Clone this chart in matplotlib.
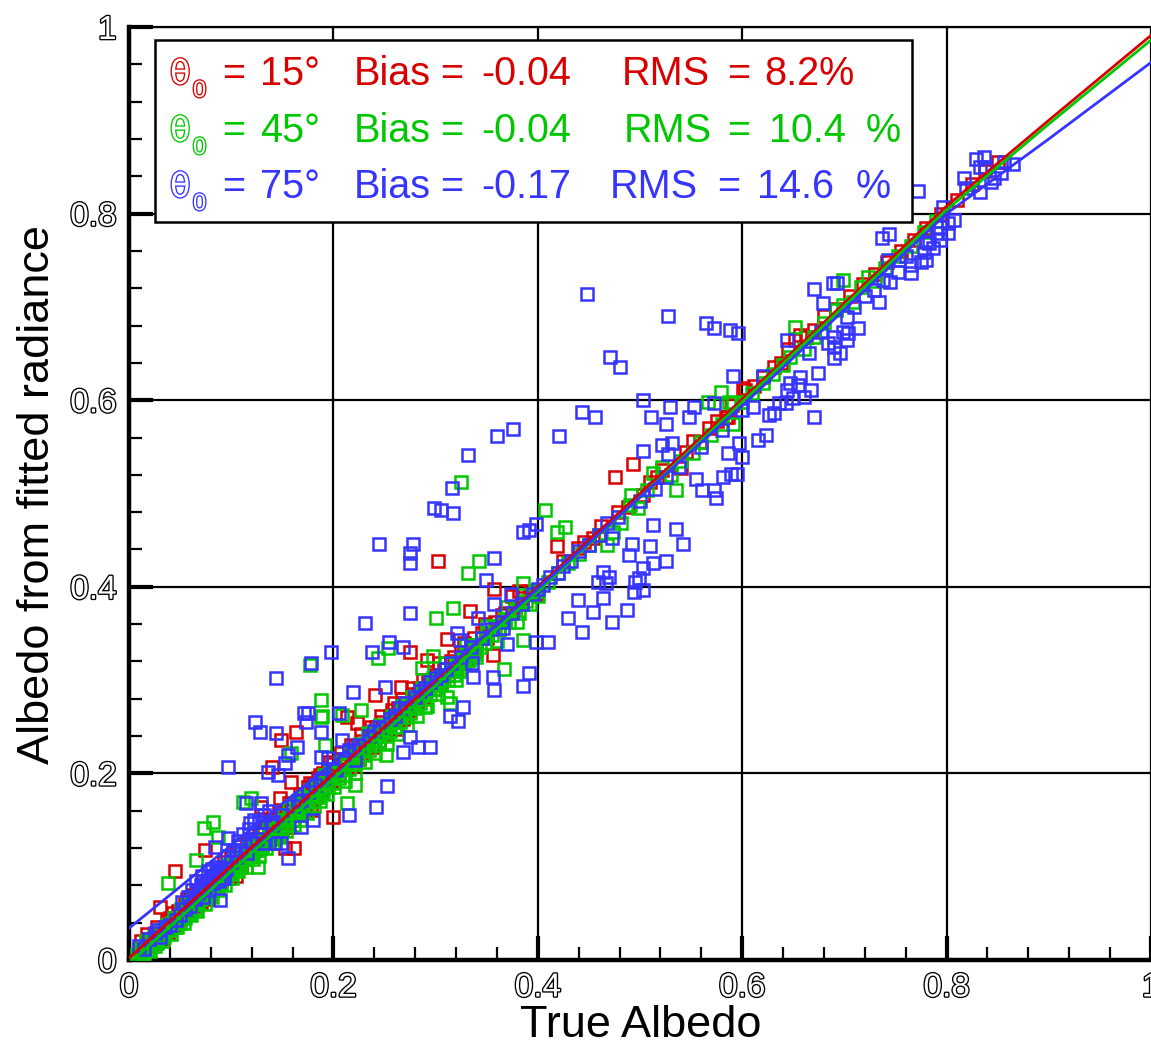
import matplotlib
matplotlib.use("Agg")
import matplotlib.pyplot as plt
import matplotlib.patheffects as pe
from matplotlib.patches import Rectangle
from matplotlib.ticker import MultipleLocator

# ---------------- data ----------------
tick_values = [0, 0.2, 0.4, 0.6, 0.8, 1.0]
tick_labels = ["0", "0.2", "0.4", "0.6", "0.8", "1"]

x_label = "True Albedo"
y_label = "Albedo from fitted radiance"

series_names = ["15", "45", "75"]
series_bias = ["-0.04", "-0.04", "-0.17"]
series_rms = ["8.2%", "10.4", "14.6"]
series_rms_pct = ["", "%", "%"]
series_colors = ["#d80000", "#00c800", "#3535ff"]

red_pts = [
    (0.010, 0.012), (0.015, 0.010), (0.020, 0.022), (0.025, 0.018), (0.030, 0.028), (0.035, 0.030),
    (0.038, 0.029), (0.040, 0.045), (0.045, 0.038), (0.048, 0.052), (0.050, 0.044), (0.055, 0.060),
    (0.058, 0.050), (0.060, 0.068), (0.065, 0.058), (0.068, 0.075), (0.070, 0.062), (0.075, 0.080),
    (0.078, 0.070), (0.080, 0.090), (0.085, 0.078), (0.088, 0.095), (0.090, 0.085), (0.095, 0.100),
    (0.098, 0.088), (0.100, 0.110), (0.030, 0.057), (0.045, 0.095), (0.074, 0.118), (0.105, 0.090),
    (0.110, 0.100), (0.105, 0.115), (0.110, 0.105), (0.115, 0.125), (0.120, 0.112), (0.125, 0.130),
    (0.128, 0.120), (0.129, 0.164), (0.132, 0.140), (0.135, 0.128), (0.138, 0.150), (0.140, 0.135),
    (0.140, 0.207), (0.145, 0.152), (0.148, 0.174), (0.149, 0.236), (0.150, 0.140), (0.153, 0.120),
    (0.155, 0.160), (0.156, 0.143), (0.159, 0.191), (0.160, 0.150), (0.161, 0.120), (0.163, 0.244),
    (0.165, 0.170), (0.168, 0.158), (0.170, 0.178), (0.172, 0.165), (0.175, 0.185), (0.178, 0.161),
    (0.180, 0.188), (0.183, 0.176), (0.185, 0.195), (0.188, 0.180), (0.190, 0.200), (0.193, 0.185),
    (0.195, 0.205), (0.198, 0.192), (0.200, 0.153), (0.200, 0.210), (0.205, 0.198), (0.208, 0.215),
    (0.212, 0.205), (0.213, 0.260), (0.215, 0.222), (0.218, 0.208), (0.220, 0.228), (0.223, 0.254),
    (0.225, 0.215), (0.228, 0.235), (0.230, 0.222), (0.235, 0.242), (0.238, 0.228), (0.241, 0.284),
    (0.242, 0.250), (0.245, 0.235), (0.248, 0.255), (0.250, 0.242), (0.255, 0.262), (0.259, 0.275),
    (0.260, 0.248), (0.263, 0.270), (0.266, 0.293), (0.268, 0.258), (0.270, 0.275), (0.275, 0.330),
    (0.275, 0.268), (0.278, 0.285), (0.282, 0.275), (0.285, 0.292), (0.290, 0.282), (0.292, 0.322),
    (0.293, 0.300), (0.298, 0.290), (0.302, 0.428), (0.300, 0.305), (0.305, 0.298), (0.308, 0.312),
    (0.311, 0.344), (0.312, 0.305), (0.315, 0.320), (0.320, 0.312), (0.325, 0.330), (0.330, 0.322),
    (0.334, 0.374), (0.335, 0.338), (0.340, 0.332), (0.345, 0.350), (0.350, 0.345), (0.356, 0.327),
    (0.357, 0.398), (0.358, 0.362), (0.362, 0.355), (0.368, 0.372), (0.375, 0.390), (0.378, 0.378),
    (0.385, 0.388), (0.392, 0.396), (0.398, 0.392), (0.419, 0.444), (0.425, 0.428), (0.439, 0.442),
    (0.445, 0.448), (0.454, 0.452), (0.462, 0.465), (0.476, 0.518), (0.478, 0.480), (0.488, 0.486),
    (0.493, 0.532), (0.503, 0.498), (0.510, 0.512), (0.517, 0.518), (0.522, 0.525), (0.540, 0.527),
    (0.545, 0.545), (0.552, 0.556), (0.559, 0.555), (0.568, 0.570), (0.575, 0.578), (0.584, 0.582),
    (0.586, 0.582), (0.590, 0.595), (0.601, 0.613), (0.603, 0.611), (0.612, 0.615), (0.620, 0.625),
    (0.631, 0.636), (0.638, 0.640), (0.645, 0.655), (0.652, 0.664), (0.657, 0.670), (0.662, 0.668),
    (0.670, 0.675), (0.680, 0.690), (0.692, 0.698), (0.705, 0.712), (0.718, 0.725), (0.730, 0.735),
    (0.742, 0.748), (0.755, 0.760), (0.768, 0.772), (0.780, 0.785), (0.795, 0.800), (0.810, 0.815),
    (0.825, 0.832), (0.838, 0.846), (0.850, 0.855),
    (0.012, 0.020), (0.018, 0.028), (0.022, 0.015), (0.027, 0.035), (0.033, 0.022), (0.037, 0.042),
    (0.043, 0.050), (0.047, 0.040), (0.053, 0.048), (0.057, 0.065), (0.063, 0.070), (0.067, 0.060),
    (0.072, 0.085), (0.077, 0.065), (0.083, 0.088), (0.087, 0.080), (0.093, 0.105), (0.097, 0.095),
    (0.103, 0.100), (0.108, 0.122), (0.113, 0.108), (0.118, 0.130), (0.123, 0.118), (0.127, 0.138),
    (0.133, 0.125), (0.137, 0.145), (0.143, 0.138), (0.147, 0.158), (0.152, 0.148), (0.157, 0.168),
    (0.162, 0.155), (0.167, 0.178), (0.173, 0.170), (0.177, 0.190), (0.182, 0.175), (0.187, 0.198),
    (0.192, 0.195), (0.197, 0.212), (0.203, 0.205), (0.207, 0.222), (0.213, 0.215), (0.217, 0.230),
    (0.222, 0.218), (0.227, 0.242), (0.232, 0.230), (0.237, 0.250), (0.243, 0.245), (0.247, 0.262),
    (0.253, 0.250), (0.257, 0.268), (0.262, 0.258), (0.267, 0.280), (0.272, 0.268), (0.277, 0.292),
    (0.283, 0.285), (0.288, 0.300), (0.295, 0.295), (0.303, 0.318), (0.318, 0.325), (0.328, 0.340),
    (0.338, 0.345), (0.348, 0.360), (0.365, 0.370), (0.382, 0.395),
]

green_pts = [
    (0.008, 0.005), (0.012, 0.010), (0.015, 0.008), (0.018, 0.015), (0.020, 0.012), (0.022, 0.020),
    (0.025, 0.015), (0.028, 0.022), (0.030, 0.025), (0.032, 0.020), (0.035, 0.030), (0.038, 0.083),
    (0.040, 0.032), (0.042, 0.040), (0.045, 0.035), (0.048, 0.045), (0.050, 0.040), (0.052, 0.050),
    (0.055, 0.045), (0.058, 0.055), (0.060, 0.050), (0.062, 0.060), (0.065, 0.055), (0.066, 0.107),
    (0.068, 0.062), (0.070, 0.065), (0.073, 0.141), (0.072, 0.070), (0.075, 0.068), (0.078, 0.075),
    (0.080, 0.072), (0.082, 0.148), (0.082, 0.080), (0.085, 0.078), (0.087, 0.132), (0.088, 0.085),
    (0.090, 0.082), (0.092, 0.090), (0.095, 0.088), (0.098, 0.095), (0.100, 0.092), (0.102, 0.100),
    (0.105, 0.098), (0.108, 0.105), (0.110, 0.102), (0.112, 0.169), (0.113, 0.110), (0.115, 0.108),
    (0.118, 0.115), (0.119, 0.174), (0.120, 0.112), (0.122, 0.120), (0.125, 0.118), (0.126, 0.100),
    (0.128, 0.125), (0.130, 0.122), (0.133, 0.130), (0.135, 0.128), (0.138, 0.135), (0.140, 0.130),
    (0.143, 0.140), (0.145, 0.135), (0.148, 0.145), (0.150, 0.140), (0.152, 0.150), (0.155, 0.145),
    (0.158, 0.155), (0.159, 0.222), (0.160, 0.150), (0.163, 0.160), (0.165, 0.155), (0.168, 0.165),
    (0.170, 0.160), (0.172, 0.170), (0.175, 0.165), (0.177, 0.316), (0.178, 0.175), (0.180, 0.170),
    (0.182, 0.180), (0.185, 0.175), (0.188, 0.185), (0.188, 0.279), (0.188, 0.260), (0.189, 0.262),
    (0.190, 0.180), (0.192, 0.230), (0.192, 0.190), (0.195, 0.185), (0.198, 0.195), (0.200, 0.190),
    (0.203, 0.200), (0.205, 0.195), (0.208, 0.263), (0.208, 0.205), (0.210, 0.198), (0.213, 0.168),
    (0.213, 0.210), (0.215, 0.205), (0.218, 0.215), (0.220, 0.210), (0.221, 0.188), (0.222, 0.220),
    (0.225, 0.215), (0.227, 0.268), (0.228, 0.225), (0.230, 0.220), (0.233, 0.230), (0.234, 0.243),
    (0.235, 0.225), (0.238, 0.235), (0.240, 0.230), (0.243, 0.240), (0.244, 0.324), (0.245, 0.235),
    (0.247, 0.243), (0.248, 0.245), (0.250, 0.240), (0.251, 0.220), (0.253, 0.334), (0.253, 0.250),
    (0.255, 0.245), (0.258, 0.255), (0.260, 0.250), (0.263, 0.260), (0.265, 0.255), (0.268, 0.265),
    (0.270, 0.260), (0.273, 0.270), (0.275, 0.265), (0.278, 0.275), (0.280, 0.270), (0.283, 0.280),
    (0.285, 0.275), (0.287, 0.313), (0.288, 0.285), (0.290, 0.271), (0.290, 0.280), (0.293, 0.290),
    (0.295, 0.285), (0.297, 0.326), (0.298, 0.295), (0.300, 0.367), (0.300, 0.290), (0.303, 0.300),
    (0.305, 0.295), (0.308, 0.305), (0.311, 0.282), (0.312, 0.300), (0.314, 0.275), (0.315, 0.310),
    (0.317, 0.377), (0.318, 0.305), (0.320, 0.315), (0.323, 0.310), (0.325, 0.512), (0.325, 0.322),
    (0.328, 0.318), (0.330, 0.328), (0.332, 0.415), (0.333, 0.322), (0.335, 0.332), (0.338, 0.328),
    (0.340, 0.338), (0.342, 0.428), (0.343, 0.335), (0.345, 0.345), (0.348, 0.340), (0.350, 0.350),
    (0.355, 0.348), (0.358, 0.358), (0.362, 0.355), (0.367, 0.312), (0.368, 0.365), (0.372, 0.362),
    (0.378, 0.375), (0.382, 0.372), (0.386, 0.404), (0.386, 0.343), (0.388, 0.385), (0.392, 0.382),
    (0.398, 0.395), (0.400, 0.390), (0.407, 0.482), (0.410, 0.405), (0.419, 0.459), (0.420, 0.415),
    (0.427, 0.464), (0.430, 0.425), (0.440, 0.435), (0.450, 0.445), (0.460, 0.455), (0.468, 0.445),
    (0.474, 0.459), (0.481, 0.468), (0.490, 0.488), (0.491, 0.498), (0.498, 0.484), (0.507, 0.504),
    (0.513, 0.522), (0.522, 0.528), (0.530, 0.520), (0.535, 0.504), (0.540, 0.535), (0.552, 0.543),
    (0.560, 0.555), (0.567, 0.598), (0.569, 0.563), (0.579, 0.609), (0.580, 0.575), (0.587, 0.598),
    (0.591, 0.575), (0.591, 0.597), (0.600, 0.598), (0.610, 0.608), (0.620, 0.618), (0.630, 0.628),
    (0.640, 0.638), (0.647, 0.646), (0.652, 0.678), (0.660, 0.655), (0.670, 0.668), (0.680, 0.683),
    (0.692, 0.697), (0.699, 0.702), (0.699, 0.729), (0.708, 0.705), (0.716, 0.721), (0.723, 0.732),
    (0.730, 0.728), (0.740, 0.742), (0.752, 0.755), (0.765, 0.765), (0.778, 0.780), (0.790, 0.792),
    (0.010, 0.012), (0.014, 0.005), (0.017, 0.020), (0.021, 0.010), (0.024, 0.025), (0.027, 0.018),
    (0.031, 0.032), (0.034, 0.025), (0.037, 0.038), (0.041, 0.028), (0.044, 0.045), (0.047, 0.035),
    (0.051, 0.055), (0.054, 0.040), (0.057, 0.060), (0.061, 0.048), (0.064, 0.068), (0.067, 0.052),
    (0.071, 0.075), (0.074, 0.060), (0.077, 0.082), (0.081, 0.068), (0.084, 0.088), (0.087, 0.075),
    (0.091, 0.095), (0.094, 0.080), (0.097, 0.102), (0.101, 0.088), (0.104, 0.110), (0.107, 0.095),
    (0.111, 0.115), (0.114, 0.100), (0.117, 0.122), (0.121, 0.108), (0.124, 0.128), (0.127, 0.112),
    (0.131, 0.135), (0.134, 0.120), (0.137, 0.142), (0.141, 0.125), (0.144, 0.148), (0.147, 0.132),
    (0.151, 0.155), (0.154, 0.138), (0.157, 0.162), (0.161, 0.145), (0.164, 0.168), (0.167, 0.150),
    (0.171, 0.175), (0.174, 0.158), (0.177, 0.182), (0.181, 0.165), (0.184, 0.188), (0.187, 0.170),
    (0.191, 0.198), (0.194, 0.178), (0.197, 0.202), (0.201, 0.185), (0.206, 0.212), (0.211, 0.192),
    (0.216, 0.222), (0.221, 0.200), (0.226, 0.232), (0.231, 0.212), (0.236, 0.242), (0.241, 0.222),
    (0.246, 0.252), (0.252, 0.232), (0.257, 0.262), (0.262, 0.242), (0.267, 0.272), (0.272, 0.252),
    (0.277, 0.282), (0.282, 0.262), (0.287, 0.292), (0.292, 0.272), (0.297, 0.302), (0.302, 0.285),
    (0.310, 0.318), (0.320, 0.300), (0.330, 0.338), (0.340, 0.325), (0.350, 0.358), (0.360, 0.342),
    (0.370, 0.378), (0.380, 0.362),
]

blue_pts = [
    (0.010, 0.015), (0.015, 0.012), (0.020, 0.022), (0.025, 0.029), (0.028, 0.032), (0.030, 0.025),
    (0.035, 0.035), (0.040, 0.038), (0.046, 0.043), (0.050, 0.048), (0.055, 0.055), (0.060, 0.058),
    (0.065, 0.065), (0.068, 0.072), (0.070, 0.080), (0.072, 0.068), (0.075, 0.085), (0.078, 0.075),
    (0.080, 0.090), (0.082, 0.082), (0.084, 0.121), (0.085, 0.093), (0.088, 0.085), (0.089, 0.064),
    (0.090, 0.095), (0.093, 0.088), (0.095, 0.098), (0.097, 0.131), (0.097, 0.207), (0.100, 0.105),
    (0.105, 0.110), (0.110, 0.118), (0.114, 0.168), (0.115, 0.115), (0.118, 0.147), (0.120, 0.125),
    (0.123, 0.255), (0.125, 0.130), (0.128, 0.244), (0.129, 0.168), (0.130, 0.135), (0.133, 0.125),
    (0.136, 0.202), (0.140, 0.145), (0.141, 0.148), (0.143, 0.125), (0.144, 0.243), (0.144, 0.302),
    (0.146, 0.198), (0.149, 0.125), (0.150, 0.155), (0.153, 0.211), (0.156, 0.220), (0.156, 0.109),
    (0.160, 0.165), (0.164, 0.228), (0.165, 0.170), (0.168, 0.171), (0.168, 0.143), (0.171, 0.265),
    (0.173, 0.255), (0.175, 0.265), (0.175, 0.180), (0.178, 0.318), (0.180, 0.150), (0.182, 0.188),
    (0.187, 0.193), (0.188, 0.218), (0.188, 0.244), (0.190, 0.195), (0.195, 0.217), (0.198, 0.330),
    (0.200, 0.205), (0.203, 0.204), (0.205, 0.265), (0.208, 0.236), (0.210, 0.215), (0.215, 0.225),
    (0.215, 0.155), (0.219, 0.287), (0.220, 0.225), (0.221, 0.214), (0.225, 0.230), (0.231, 0.361),
    (0.235, 0.240), (0.238, 0.330), (0.240, 0.245), (0.242, 0.164), (0.245, 0.446), (0.245, 0.250),
    (0.250, 0.293), (0.252, 0.186), (0.254, 0.341), (0.255, 0.258), (0.260, 0.262), (0.265, 0.270),
    (0.268, 0.335), (0.268, 0.223), (0.270, 0.275), (0.275, 0.239), (0.275, 0.372), (0.275, 0.436),
    (0.275, 0.425), (0.278, 0.446), (0.280, 0.282), (0.283, 0.228), (0.285, 0.288), (0.290, 0.292),
    (0.295, 0.228), (0.295, 0.298), (0.298, 0.484), (0.300, 0.302), (0.305, 0.482), (0.305, 0.305),
    (0.310, 0.312), (0.314, 0.262), (0.315, 0.318), (0.316, 0.506), (0.317, 0.479), (0.321, 0.350),
    (0.322, 0.256), (0.324, 0.343), (0.325, 0.325), (0.327, 0.271), (0.332, 0.541), (0.335, 0.335),
    (0.336, 0.318), (0.337, 0.303), (0.341, 0.367), (0.345, 0.345), (0.349, 0.407), (0.355, 0.355),
    (0.356, 0.303), (0.357, 0.289), (0.357, 0.382), (0.357, 0.431), (0.360, 0.562), (0.365, 0.362),
    (0.366, 0.356), (0.370, 0.339), (0.374, 0.392), (0.375, 0.372), (0.376, 0.569), (0.385, 0.382),
    (0.386, 0.294), (0.386, 0.459), (0.391, 0.308), (0.391, 0.461), (0.395, 0.392), (0.398, 0.467),
    (0.398, 0.341), (0.400, 0.398), (0.405, 0.402), (0.410, 0.341), (0.412, 0.410), (0.420, 0.415),
    (0.421, 0.562), (0.425, 0.422), (0.430, 0.367), (0.432, 0.428), (0.439, 0.386), (0.440, 0.438),
    (0.443, 0.352), (0.443, 0.587), (0.448, 0.714), (0.450, 0.445), (0.454, 0.373), (0.456, 0.582),
    (0.459, 0.405), (0.460, 0.455), (0.464, 0.416), (0.464, 0.388), (0.467, 0.404), (0.468, 0.468),
    (0.470, 0.411), (0.471, 0.646), (0.473, 0.362), (0.473, 0.452), (0.478, 0.475), (0.480, 0.636),
    (0.487, 0.375), (0.489, 0.434), (0.492, 0.446), (0.494, 0.394), (0.495, 0.405), (0.499, 0.409),
    (0.500, 0.492), (0.503, 0.600), (0.503, 0.546), (0.503, 0.420), (0.503, 0.397), (0.510, 0.444),
    (0.511, 0.582), (0.513, 0.466), (0.513, 0.425), (0.515, 0.505), (0.522, 0.552), (0.525, 0.575),
    (0.525, 0.518), (0.525, 0.428), (0.527, 0.690), (0.527, 0.542), (0.529, 0.593), (0.531, 0.554),
    (0.535, 0.462), (0.538, 0.528), (0.542, 0.446), (0.548, 0.582), (0.553, 0.593), (0.555, 0.516),
    (0.560, 0.550), (0.561, 0.504), (0.565, 0.683), (0.572, 0.677), (0.572, 0.504), (0.572, 0.597),
    (0.574, 0.495), (0.580, 0.568), (0.581, 0.518), (0.586, 0.543), (0.588, 0.675), (0.589, 0.521),
    (0.591, 0.626), (0.595, 0.521), (0.596, 0.672), (0.597, 0.554), (0.600, 0.539), (0.600, 0.590),
    (0.611, 0.593), (0.615, 0.557), (0.620, 0.626), (0.623, 0.563), (0.626, 0.584), (0.631, 0.586),
    (0.636, 0.597), (0.643, 0.597), (0.644, 0.611), (0.644, 0.665), (0.647, 0.618), (0.650, 0.602),
    (0.655, 0.616), (0.657, 0.625), (0.660, 0.603), (0.665, 0.651), (0.667, 0.611), (0.670, 0.582),
    (0.670, 0.719), (0.674, 0.629), (0.677, 0.673), (0.679, 0.704), (0.684, 0.661), (0.689, 0.726),
    (0.690, 0.668), (0.690, 0.657), (0.690, 0.645), (0.693, 0.726), (0.696, 0.651), (0.699, 0.673),
    (0.703, 0.689), (0.703, 0.665), (0.704, 0.672), (0.709, 0.700), (0.713, 0.677), (0.720, 0.712),
    (0.729, 0.718), (0.734, 0.705), (0.737, 0.774), (0.738, 0.729), (0.743, 0.750), (0.744, 0.778),
    (0.745, 0.727), (0.752, 0.737), (0.753, 0.750), (0.760, 0.755), (0.765, 0.745), (0.765, 0.736),
    (0.772, 0.824), (0.775, 0.748), (0.778, 0.759), (0.780, 0.750), (0.780, 0.770), (0.783, 0.768),
    (0.787, 0.763), (0.791, 0.779), (0.794, 0.772), (0.794, 0.786), (0.796, 0.807), (0.801, 0.779),
    (0.801, 0.790), (0.807, 0.793), (0.817, 0.838), (0.819, 0.827), (0.829, 0.859), (0.833, 0.850),
    (0.833, 0.823), (0.837, 0.861), (0.838, 0.850), (0.843, 0.834), (0.846, 0.838), (0.853, 0.843),
    (0.856, 0.855), (0.865, 0.853),
    (0.052, 0.062), (0.058, 0.068), (0.062, 0.075), (0.066, 0.085), (0.071, 0.090), (0.074, 0.078),
    (0.077, 0.095), (0.081, 0.098), (0.086, 0.100), (0.091, 0.088), (0.096, 0.112), (0.102, 0.118),
    (0.107, 0.128), (0.112, 0.135), (0.117, 0.140), (0.122, 0.150), (0.127, 0.148), (0.132, 0.155),
    (0.137, 0.160),
]

# fitted curves
fit_x = [0.0, 0.1, 0.2, 0.3, 0.4, 0.5, 0.6, 0.7, 0.8, 0.9, 1.0]
red_fit_y = [0.002, 0.101, 0.200, 0.300, 0.400, 0.500, 0.601, 0.704, 0.808, 0.900, 0.991]
green_fit_y = [-0.004, 0.095, 0.194, 0.294, 0.395, 0.496, 0.598, 0.701, 0.804, 0.896, 0.986]
blue_fit_y = [0.034, 0.123, 0.212, 0.302, 0.398, 0.496, 0.594, 0.697, 0.800, 0.880, 0.962]

# ---------------- figure ----------------
W, H = 1151, 1044
FONT = "Liberation Sans"


def fx(px):
    return px / W


def fy(py):
    return 1 - py / H


fig = plt.figure(figsize=(W / 100, H / 100), dpi=100)
ax = fig.add_axes([fx(129), fy(960), (1151 - 129) / W, (960 - 27) / H])

hollow = [pe.withStroke(linewidth=1.9, foreground="black")]

all_pts = [red_pts, green_pts, blue_pts]
for pts, col in zip(all_pts, series_colors):
    xs = [p[0] for p in pts]
    ys = [p[1] for p in pts]
    ax.plot(xs, ys, "s", mfc="none", mec=col, ms=8.2, mew=1.8, zorder=3)

for fy_vals, col in zip([red_fit_y, green_fit_y, blue_fit_y], series_colors):
    ax.plot(fit_x, fy_vals, "-", color=col, lw=2.0, zorder=4)

ax.set_xlim(0, 1)
ax.set_ylim(0, 1)
ax.set_xticks(tick_values)
ax.set_yticks(tick_values)
ax.xaxis.set_minor_locator(MultipleLocator(0.04))
ax.yaxis.set_minor_locator(MultipleLocator(0.04))
ax.set_xticklabels(tick_labels, fontfamily=FONT, fontsize=24, color="white",
                   path_effects=hollow)
ax.set_yticklabels(tick_labels, fontfamily=FONT, fontsize=24, color="white",
                   path_effects=hollow)
ax.tick_params(which="major", direction="in", length=17, width=3, pad=9,
               top=False, right=False)
ax.tick_params(which="minor", direction="in", length=9.5, width=1.6,
               top=False, right=False)
ax.grid(which="major", color="black", lw=1.6)
ax.set_axisbelow(True)

for side in ["bottom", "left"]:
    ax.spines[side].set_linewidth(3.2)
ax.spines["top"].set_linewidth(1.6)
ax.spines["right"].set_visible(False)

fig.text(fx(641), fy(1037), x_label, ha="center", va="baseline",
         fontfamily=FONT, fontsize=32.5, color="black")
fig.text(fx(38), fy(495), y_label, ha="center", va="center", rotation=90,
         fontfamily=FONT, fontsize=32.5, color="black")

# ---------------- legend box ----------------
fig.add_artist(Rectangle((fx(155), fy(222)), (912 - 155) / W, (222 - 40) / H,
                         transform=fig.transFigure, facecolor="white",
                         edgecolor="black", lw=1.8, zorder=5))

row_base = [85, 142, 198]
rms_x = [622, 624, 610]
rms_eq_x = [727, 727, 717]
rms_val_x = [764, 769, 757]
rms_pct_x = [0, 866, 856]
LFS = 28.5
for i in range(3):
    col = series_colors[i]
    yb = row_base[i]
    kw = dict(fontfamily=FONT, fontsize=LFS, color=col, va="baseline", ha="left", zorder=6)
    outline = [pe.withStroke(linewidth=1.9, foreground=col)]
    fig.text(fx(170), fy(yb - 1), "θ", fontfamily="DejaVu Sans", fontsize=24,
             color="white", path_effects=outline, va="baseline", ha="left", zorder=6)
    fig.text(fx(193), fy(yb + 12), "0", fontfamily=FONT, fontsize=17,
             color="white", path_effects=outline, va="baseline", ha="left", zorder=6)
    fig.text(fx(222), fy(yb), "=", **kw)
    fig.text(fx(260), fy(yb), series_names[i] + "°", **kw)
    fig.text(fx(354), fy(yb), "Bias", **kw)
    fig.text(fx(440), fy(yb), "=", **kw)
    fig.text(fx(481), fy(yb), series_bias[i], **kw)
    fig.text(fx(rms_x[i]), fy(yb), "RMS", **kw)
    fig.text(fx(rms_eq_x[i]), fy(yb), "=", **kw)
    fig.text(fx(rms_val_x[i]), fy(yb), series_rms[i], **kw)
    if series_rms_pct[i]:
        fig.text(fx(rms_pct_x[i]), fy(yb), series_rms_pct[i], **kw)

fig.savefig("out.png", dpi=100)
